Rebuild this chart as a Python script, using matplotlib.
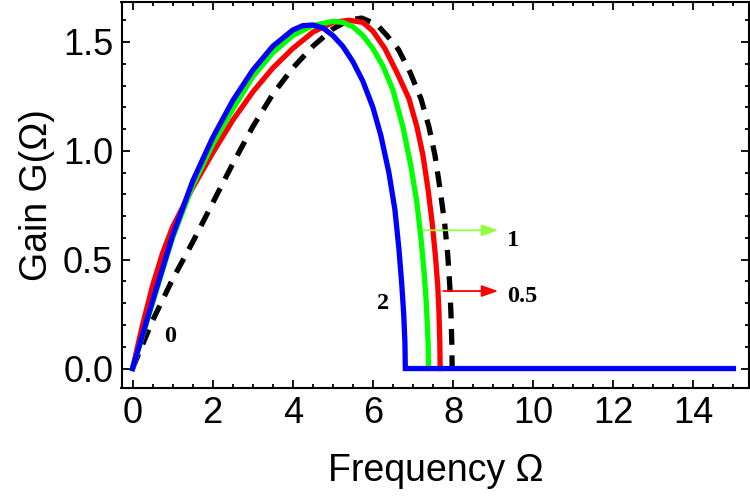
import matplotlib
matplotlib.use("Agg")
import matplotlib.pyplot as plt
from matplotlib.ticker import MultipleLocator, FormatStrFormatter

# values (Omega, G)
omega_black = [0, 0.5, 1.0, 1.5, 2.0, 2.5, 3.0, 3.5, 4.0, 4.5, 5.0, 5.4, 5.72,
               6.1, 6.35, 6.64, 6.93, 7.2, 7.4, 7.55, 7.68, 7.79, 7.87, 7.92, 7.95, 7.97, 7.98]
gain_black = [0, 0.22, 0.41, 0.58, 0.76, 0.94, 1.11, 1.26, 1.38, 1.48, 1.56, 1.60, 1.61,
              1.58, 1.53, 1.465, 1.36, 1.24, 1.11, 0.98, 0.82, 0.67, 0.52, 0.38, 0.25, 0.12, 0]

omega_red = [0, 0.25, 0.5, 0.75, 1.0, 1.25, 1.5, 2.0, 2.5, 3.0, 3.5, 4.0, 4.5, 5.0, 5.4,
             5.75, 6.0, 6.3, 6.6, 6.9, 7.1, 7.25, 7.38, 7.48, 7.56, 7.62, 7.65, 7.67, 7.68]
gain_red = [0, 0.20, 0.38, 0.53, 0.65, 0.74, 0.83, 0.99, 1.14, 1.27, 1.38, 1.47, 1.545, 1.59, 1.60,
            1.59, 1.55, 1.47, 1.36, 1.24, 1.11, 0.98, 0.82, 0.67, 0.52, 0.38, 0.26, 0.13, 0]

omega_green = [0, 0.5, 1.0, 1.5, 2.0, 2.5, 3.0, 3.5, 4.0, 4.5, 5.0, 5.25, 5.5, 5.75, 6.0,
               6.25, 6.5, 6.75, 6.95, 7.1, 7.2, 7.28, 7.33, 7.36, 7.38, 7.39]
gain_green = [0, 0.30, 0.60, 0.84, 1.03, 1.19, 1.34, 1.45, 1.53, 1.575, 1.595, 1.59, 1.57, 1.53, 1.47,
              1.39, 1.28, 1.11, 0.93, 0.76, 0.60, 0.44, 0.31, 0.20, 0.11, 0]

omega_blue = [0, 0.5, 1.0, 1.5, 2.0, 2.5, 3.0, 3.5, 4.0, 4.25, 4.5, 4.75, 5.0, 5.25, 5.5,
              5.75, 6.0, 6.2, 6.4, 6.55, 6.65, 6.72, 6.77, 6.80, 6.81, 15]
gain_blue = [0, 0.31, 0.61, 0.86, 1.06, 1.23, 1.37, 1.48, 1.555, 1.575, 1.578, 1.565, 1.53, 1.48, 1.41,
             1.32, 1.20, 1.07, 0.90, 0.73, 0.55, 0.39, 0.25, 0.12, 0, 0]

# curve labels: text, x, y
curve_labels = [("0", 0.93, 0.145), ("2", 6.26, 0.30), ("1", 9.50, 0.59), ("0.5", 9.74, 0.33)]

plt.rcParams['font.family'] = ['Liberation Sans', 'DejaVu Sans']

fig = plt.figure(figsize=(7.5, 5), dpi=100)
ax = fig.add_axes([0.162, 0.2246, 0.8367, 0.7724])

lw = 3.8
ax.plot(omega_black, gain_black, color='black', lw=lw, dashes=(3, 2), dash_capstyle='butt')
ax.plot(omega_red, gain_red, color='#ff0000', lw=lw)
ax.plot(omega_green, gain_green, color='#00ff00', lw=lw)
ax.plot(omega_blue, gain_blue, color='#0000ff', lw=lw, solid_joinstyle='miter')

# arrows pointing at the curves' labels
ax.annotate("", xy=(9.13, 0.635), xytext=(7.26, 0.635),
            arrowprops=dict(arrowstyle='-|>,head_length=1.0,head_width=0.35',
                            color='#90ff40', lw=1.3, shrinkA=0, shrinkB=0))
ax.annotate("", xy=(9.13, 0.356), xytext=(7.76, 0.356),
            arrowprops=dict(arrowstyle='-|>,head_length=1.0,head_width=0.35',
                            color='#ff0000', lw=1.3, shrinkA=0, shrinkB=0))

for txt, x, y in curve_labels:
    ax.text(x, y, txt, ha='center', va='center', fontsize=17.5, fontweight='bold',
            family=['Liberation Serif', 'DejaVu Serif'])

ax.set_xlim(-0.275, 15.39)
ax.set_ylim(-0.088, 1.686)

ax.xaxis.set_major_locator(MultipleLocator(2))
ax.xaxis.set_minor_locator(MultipleLocator(0.5))
ax.yaxis.set_major_locator(MultipleLocator(0.5))
ax.yaxis.set_minor_locator(MultipleLocator(0.1))
ax.yaxis.set_major_formatter(FormatStrFormatter('%.1f'))

ax.tick_params(which='both', direction='in', top=True, right=True, width=1.3)
ax.tick_params(which='major', length=6, labelsize=26, pad=6)
ax.tick_params(which='minor', length=3)
for sp in ax.spines.values():
    sp.set_linewidth(1.5)

ax.set_xlabel('Frequency Ω', fontsize=27, labelpad=16)
ax.set_ylabel('Gain G(Ω)', fontsize=27, labelpad=6)

fig.savefig('out.png', dpi=100)
